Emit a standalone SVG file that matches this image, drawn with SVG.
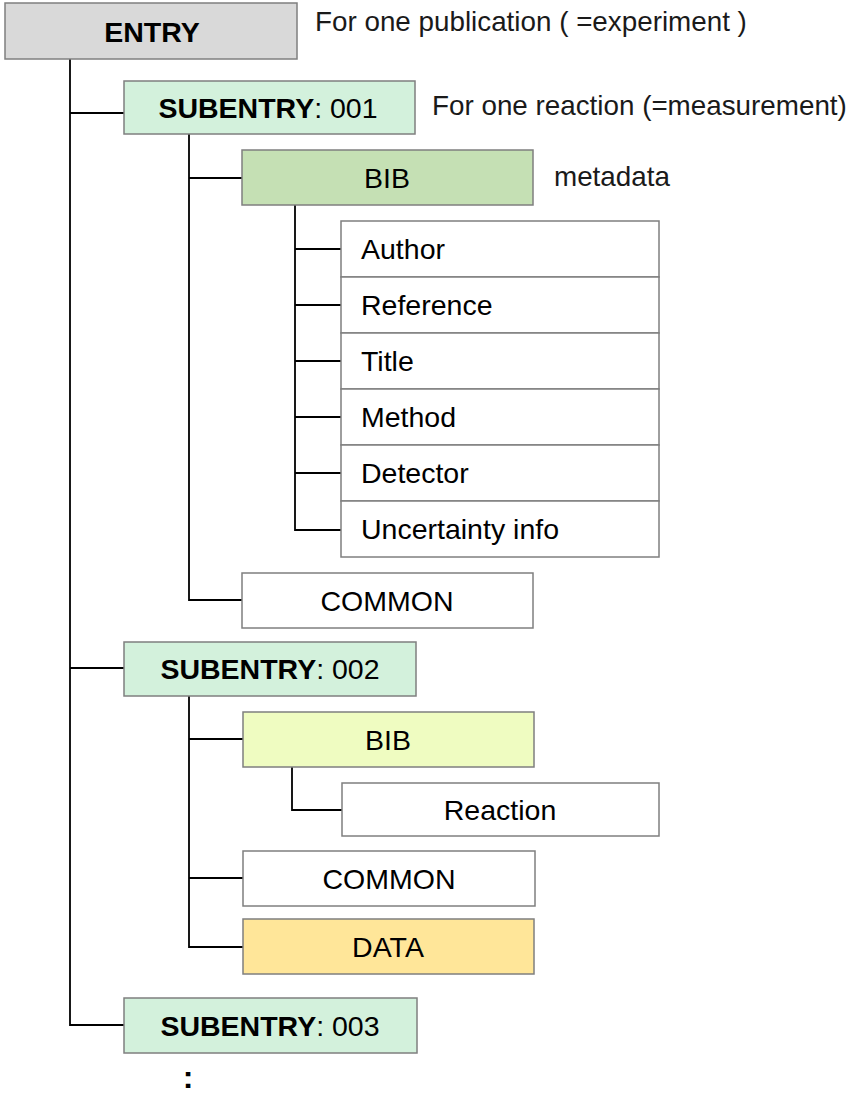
<svg xmlns="http://www.w3.org/2000/svg" width="847" height="1095" viewBox="0 0 847 1095">
<style>
  .box { stroke: #7f7f7f; stroke-width: 1.5; }
  .white { fill: #ffffff; }
  .entry { fill: #d9d9d9; }
  .sub { fill: #d3f1dc; }
  .bib1 { fill: #c5e0b4; }
  .bib2 { fill: #effcc1; }
  .data { fill: #ffe699; }
  text { font-family: "Liberation Sans", Arial, Helvetica, sans-serif; fill: #000; }
  .lbl { font-size: 28.5px; }
  .c { text-anchor: middle; }
  .b { font-weight: bold; }
  .note { font-size: 27.8px; fill: #1a1a1a; }
  .conn { fill: none; stroke: #000; stroke-width: 1.8; }
</style>
<rect width="847" height="1095" fill="#ffffff"/>
<g id="connectors">
  <path class="conn" d="M70 59 V1025 H124"/>
  <path class="conn" d="M70 113 H124"/>
  <path class="conn" d="M70 668 H124"/>
  <path class="conn" d="M189 134 V600 H242"/>
  <path class="conn" d="M189 178 H242"/>
  <path class="conn" d="M295 205 V530 H341"/>
  <path class="conn" d="M295 249 H341"/>
  <path class="conn" d="M295 305 H341"/>
  <path class="conn" d="M295 361 H341"/>
  <path class="conn" d="M295 417 H341"/>
  <path class="conn" d="M295 473 H341"/>
  <path class="conn" d="M189 696 V947 H243"/>
  <path class="conn" d="M189 739 H243"/>
  <path class="conn" d="M189 878 H243"/>
  <path class="conn" d="M292 767 V810 H342"/>
</g>
<g id="entry">
  <rect class="box entry" x="5" y="3" width="292" height="56"/>
  <text class="lbl c b" x="152" y="42">ENTRY</text>
</g>
<g id="note-entry"><text class="note" x="315" y="31">For one publication ( =experiment )</text></g>
<g id="subentry-001">
  <rect class="box sub" x="124" y="81" width="291" height="53"/>
  <text class="lbl c" x="268" y="118"><tspan class="b">SUBENTRY</tspan>: 001</text>
</g>
<g id="note-subentry"><text class="note" x="432" y="115">For one reaction (=measurement)</text></g>
<g id="bib-1">
  <rect class="box bib1" x="242" y="150" width="291" height="55"/>
  <text class="lbl c" x="387" y="188">BIB</text>
</g>
<g id="note-bib"><text class="note" x="554" y="186">metadata</text></g>
<g id="author">
  <rect class="box white" x="341" y="221" width="318" height="56"/>
  <text class="lbl" x="361" y="259">Author</text>
</g>
<g id="reference">
  <rect class="box white" x="341" y="277" width="318" height="56"/>
  <text class="lbl" x="361" y="315">Reference</text>
</g>
<g id="title">
  <rect class="box white" x="341" y="333" width="318" height="56"/>
  <text class="lbl" x="361" y="371">Title</text>
</g>
<g id="method">
  <rect class="box white" x="341" y="389" width="318" height="56"/>
  <text class="lbl" x="361" y="427">Method</text>
</g>
<g id="detector">
  <rect class="box white" x="341" y="445" width="318" height="56"/>
  <text class="lbl" x="361" y="483">Detector</text>
</g>
<g id="uncertainty">
  <rect class="box white" x="341" y="501" width="318" height="56"/>
  <text class="lbl" x="361" y="539">Uncertainty info</text>
</g>
<g id="common-1">
  <rect class="box white" x="242" y="573" width="291" height="55"/>
  <text class="lbl c" x="387" y="611">COMMON</text>
</g>
<g id="subentry-002">
  <rect class="box sub" x="124" y="642" width="292" height="54"/>
  <text class="lbl c" x="270" y="679"><tspan class="b">SUBENTRY</tspan>: 002</text>
</g>
<g id="bib-2">
  <rect class="box bib2" x="243" y="712" width="291" height="55"/>
  <text class="lbl c" x="388" y="750">BIB</text>
</g>
<g id="reaction">
  <rect class="box white" x="342" y="783" width="317" height="53"/>
  <text class="lbl c" x="500" y="820">Reaction</text>
</g>
<g id="common-2">
  <rect class="box white" x="243" y="851" width="292" height="55"/>
  <text class="lbl c" x="389" y="889">COMMON</text>
</g>
<g id="data">
  <rect class="box data" x="243" y="919" width="291" height="55"/>
  <text class="lbl c" x="388" y="957">DATA</text>
</g>
<g id="subentry-003">
  <rect class="box sub" x="124" y="998" width="293" height="55"/>
  <text class="lbl c" x="270" y="1036"><tspan class="b">SUBENTRY</tspan>: 003</text>
</g>
<g id="ellipsis"><text class="c b" x="188" y="1088" style="font-size:32px">:</text></g>
</svg>
